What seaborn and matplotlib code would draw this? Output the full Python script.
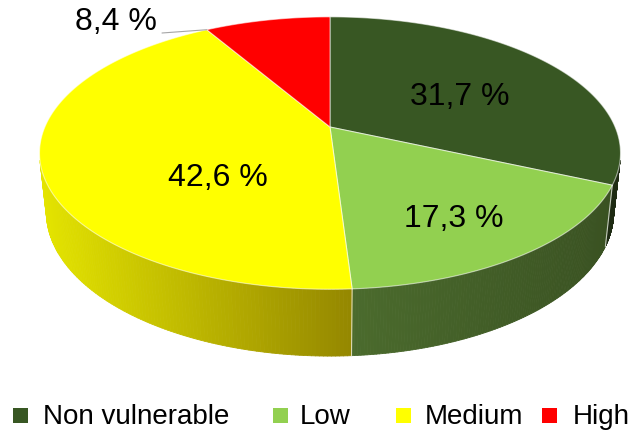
import numpy as np
import matplotlib
matplotlib.use("Agg")
import matplotlib.pyplot as plt
import seaborn as sns
from matplotlib.collections import PolyCollection
from matplotlib.colors import to_rgb
from matplotlib.patches import Polygon, Rectangle

# ---- data -------------------------------------------------------------
categories = ["Non vulnerable", "Low", "Medium", "High"]
shares = [31.7, 17.3, 42.6, 8.4]
top_colors = ["#385723", "#92d050", "#ffff00", "#ff0000"]
# side-wall shading ramps (left edge colour -> right edge colour)
side_ramps = [("#1e2b13", "#1e2b13"),
              ("#4b6b2d", "#3a5222"),
              ("#e4e400", "#948700"),
              ("#cc0000", "#990000")]
value_labels = [f"{v:.1f} %".replace(".", ",") for v in shares]

# label anchor points (pixels) and legend layout
label_pos = [(460, 97), (454, 219), (218, 178), (116, 22)]
legend_square_x = [13, 273, 396, 542]
legend_text_x = [43, 300, 425, 573]

sns.set_theme(style="white")
plt.rcParams["font.family"] = ["Liberation Sans", "DejaVu Sans"]

W, H = 629, 434
fig = plt.figure(figsize=(W / 100, H / 100), dpi=100)
ax = fig.add_axes([0, 0, 1, 1])
ax.set_xlim(0, W)
ax.set_ylim(H, 0)
ax.axis("off")

# ---- 3-D projection of a unit disc seen from above with perspective -----
phi = np.radians(27.4)
s, c = np.sin(phi), np.cos(phi)
D, K = 4.64, 1323.0
cx, cy = 330.0, 127.0
thick = 0.2345


def project(t_deg, r=1.0, y=0.0):
    t = np.radians(t_deg)
    X, Z = r * np.sin(t), r * np.cos(t)
    w = Z * c - y * s
    v = Z * s + y * c
    f = K / (D + w)
    return cx + X * f, cy - v * f


fractions = np.array(shares) / np.sum(shares)
bounds = np.concatenate([[0], np.cumsum(fractions) * 360])

# visible part of the cylinder wall
t_lim = np.degrees(np.arccos(-1.0 / (D * c)))
vis_lo, vis_hi = t_lim, 360 - t_lim

# side walls
for i in range(len(shares)):
    a0, a1 = max(bounds[i], vis_lo), min(bounds[i + 1], vis_hi)
    if a1 <= a0:
        continue
    ts = np.linspace(a0, a1, 120)
    xt, yt = project(ts)
    xb, yb = project(ts, y=-thick)
    xmin, xmax = min(xt.min(), xb.min()), max(xt.max(), xb.max())
    cl, cr = np.array(to_rgb(side_ramps[i][0])), np.array(to_rgb(side_ramps[i][1]))
    polys, cols = [], []
    for j in range(len(ts) - 1):
        polys.append([(xt[j], yt[j]), (xt[j + 1], yt[j + 1]),
                      (xb[j + 1], yb[j + 1]), (xb[j], yb[j])])
        xm = (xt[j] + xt[j + 1]) / 2
        u = (xm - xmin) / max(xmax - xmin, 1)
        cols.append(tuple(cl + (cr - cl) * u))
    ax.add_collection(PolyCollection(polys, facecolors=cols, edgecolors=cols,
                                     linewidths=0.6, antialiased=True))

# light seams on the wall at slice boundaries
for b in bounds[1:-1]:
    if vis_lo < b < vis_hi:
        x0, y0 = project(b)
        x1, y1 = project(b, y=-thick)
        ax.plot([x0, x1], [y0, y1], color="white", lw=0.8, alpha=0.7)

# top faces
for i in range(len(shares)):
    ts = np.linspace(bounds[i], bounds[i + 1], 200)
    xs, ys = project(ts)
    pts = np.column_stack([np.r_[cx, xs], np.r_[cy, ys]])
    ax.add_patch(Polygon(pts, closed=True, facecolor=top_colors[i],
                         edgecolor=(1, 1, 1, 0.55), lw=0.8))

# value labels
for i, (lx, ly) in enumerate(label_pos):
    ax.text(lx, ly, value_labels[i], fontsize=23, ha="center", va="center",
            color="black")

# leader line for the small slice
ex, ey = project(bounds[3])
ax.plot([162, ex], [33, ey], color="#a6a6a6", lw=0.8)

# legend
for i, name in enumerate(categories):
    ax.add_patch(Rectangle((legend_square_x[i], 408), 15, 15,
                           facecolor=top_colors[i], edgecolor="none"))
    ax.text(legend_text_x[i], 417, name, fontsize=20, ha="left", va="center",
            color="black")

fig.savefig("out.png", dpi=100)
